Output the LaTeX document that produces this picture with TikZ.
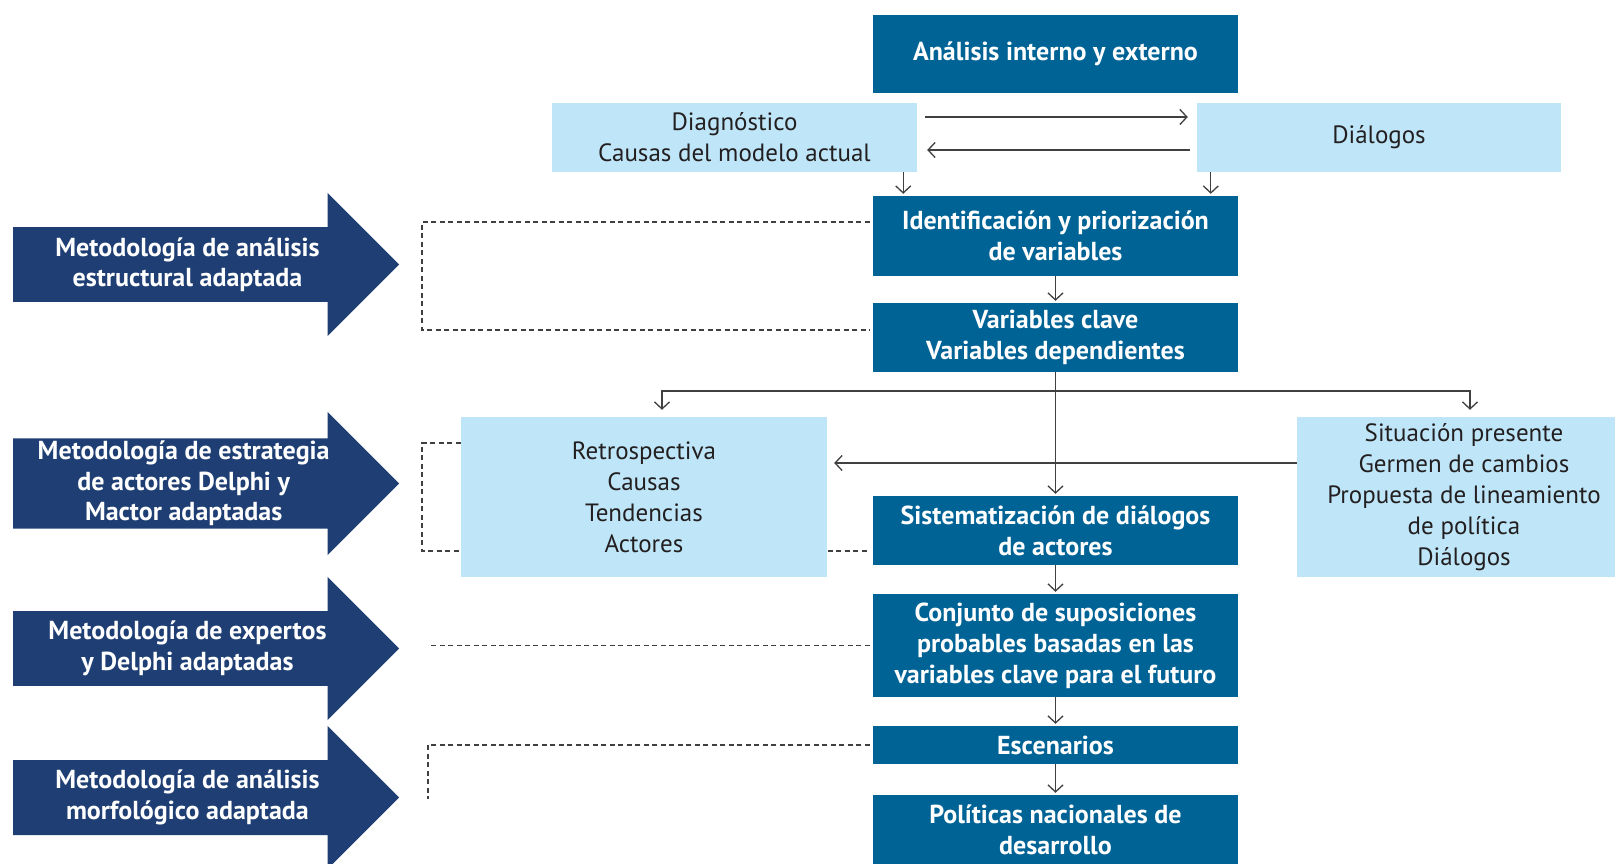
\documentclass[tikz,border=0pt]{standalone}
\usepackage{fontspec}
\setmainfont{PT Sans}
\usepackage{tikz}
\usetikzlibrary{arrows.meta,shapes,positioning,backgrounds}
\definecolor{boxblue}{RGB}{0,99,150}
\definecolor{lightblue}{RGB}{190,230,248}
\definecolor{navy}{RGB}{31,63,116}
\definecolor{linegray}{RGB}{64,64,64}
\definecolor{textgray}{RGB}{35,31,32}
\tikzstyle{mainbox}=[rectangle, fill=boxblue, text=white,
                     font=\fontsize{26}{31}\selectfont\bfseries,
                     minimum width=365pt, align=center, inner sep=0pt]
\tikzstyle{infobox}=[rectangle, fill=lightblue, text=textgray,
                     font=\fontsize{25}{31}\selectfont,
                     align=center, inner sep=0pt]
\tikzstyle{method} =[single arrow, fill=navy, text=white,
                     font=\fontsize{26}{30.5}\selectfont\bfseries,
                     align=center, minimum height=386pt,
                     minimum width=143pt, single arrow head extend=25pt,
                     inner sep=0pt, anchor=tail]
\tikzstyle{link}   =[draw=linegray, line width=1.3pt, shorten >=2pt,
                     -{Straight Barb[length=7pt,width=15pt]}]
\tikzstyle{guide}  =[draw=linegray, line width=1.1pt,
                     dash pattern=on 5pt off 3.5pt]

\begin{document}
\begin{tikzpicture}[x=1pt, y=-1pt, node distance=1cm, on grid]
    \useasboundingbox (0,0) rectangle (1615,863);
    \clip (0,0) rectangle (1615,863);
    % flujo central
    \node (ana) [mainbox, minimum height=78pt] at (1055.5,54) {An\'alisis interno y externo};
    \node (diag) [infobox, minimum width=365pt, minimum height=69pt] at (734.5,137.5) {Diagn\'ostico\\Causas del modelo actual};
    \node (dial) [infobox, minimum width=364pt, minimum height=69pt, right=644.5pt of diag] {Di\'alogos};
    \node (ident) [mainbox, minimum height=80pt] at (1055.5,236) {Identificaci\'on y priorizaci\'on\\de variables};
    \node (varc) [mainbox, minimum height=69pt, below=101.5pt of ident] {Variables clave\\Variables dependientes};
    \node (retro) [infobox, minimum width=366pt, minimum height=160pt] at (644,497) {Retrospectiva\\Causas\\Tendencias\\Actores};
    \node (situ) [infobox, minimum width=334pt, minimum height=160pt] at (1464,497) {Situaci\'on presente\\Germen de cambios\\Propuesta de lineamiento\\de pol\'itica\\Di\'alogos};
    \node (sist) [mainbox, minimum height=69pt] at (1055.5,530.5) {Sistematizaci\'on de di\'alogos\\de actores};
    \node (conj) [mainbox, minimum height=103pt, below=115pt of sist] {Conjunto de suposiciones\\probables basadas en las\\variables clave para el futuro};
    \node (esc) [mainbox, minimum height=38pt] at (1055.5,745) {Escenarios};
    \node (pol) [mainbox, minimum height=70pt] at (1055.5,830) {Pol\'iticas nacionales de\\desarrollo};
    % metodologias
    \node (m1) [method] at (13,264.5) {Metodolog\'ia de an\'alisis\\estructural adaptada};
    \node (m2) [method] at (13,483.5) {Metodolog\'ia de estrategia\\de actores Delphi y\\Mactor adaptadas};
    \node (m3) [method] at (13,648.5) {Metodolog\'ia de expertos\\y Delphi adaptadas};
    \node (m4) [method] at (13,797.5) {Metodolog\'ia de an\'alisis\\morfol\'ogico adaptada};
    % conectores
    \draw[link] ([xshift=8pt,yshift=20.5pt]diag.east) to ([xshift=-7pt,yshift=20.5pt]dial.west);
    \draw[link] ([xshift=-7pt,yshift=-12.5pt]dial.west) to ([xshift=8pt,yshift=-12.5pt]diag.east);
    \draw[link] ([xshift=-14pt]diag.south east) to ([xshift=-14pt]diag.south east |- ident.north);
    \draw[link] ([xshift=14pt]dial.south west) to ([xshift=14pt]dial.south west |- ident.north);
    \draw[link] (ident) to (varc);
    \draw[link] (varc) to (sist);
    \coordinate (fork) at (1055.5,391);
    \draw[link] (fork) -| ([xshift=18pt,yshift=5pt]retro.north);
    \draw[link] (fork) -| ([xshift=6pt,yshift=5pt]situ.north);
    \draw[link] ([yshift=34pt]situ.west) to ([xshift=5pt,yshift=34pt]retro.east);
    \draw[link] (sist) to (conj);
    \draw[link] (conj) to (esc);
    \draw[link] (esc) to (pol);
    % guias punteadas
    \begin{scope}[on background layer]
        \coordinate (g1) at (422,280);
        \coordinate (g2) at (422,500);
        \coordinate (g3) at (428,645.5);
        \coordinate (g4) at (428,799);
        \draw[guide] ([xshift=-3pt,yshift=14pt]ident.west) -| (g1) |- ([xshift=-3pt,yshift=7.5pt]varc.west);
        \draw[guide] ([yshift=54pt]retro.west) -| (g2) |- ([xshift=-3pt,yshift=-20.5pt]sist.west);
        \draw[guide] ([xshift=-3pt]conj.west) to (g3);
        \draw[guide] ([xshift=-3pt]esc.west) -| (g4);
    \end{scope}
\end{tikzpicture}
\end{document}
